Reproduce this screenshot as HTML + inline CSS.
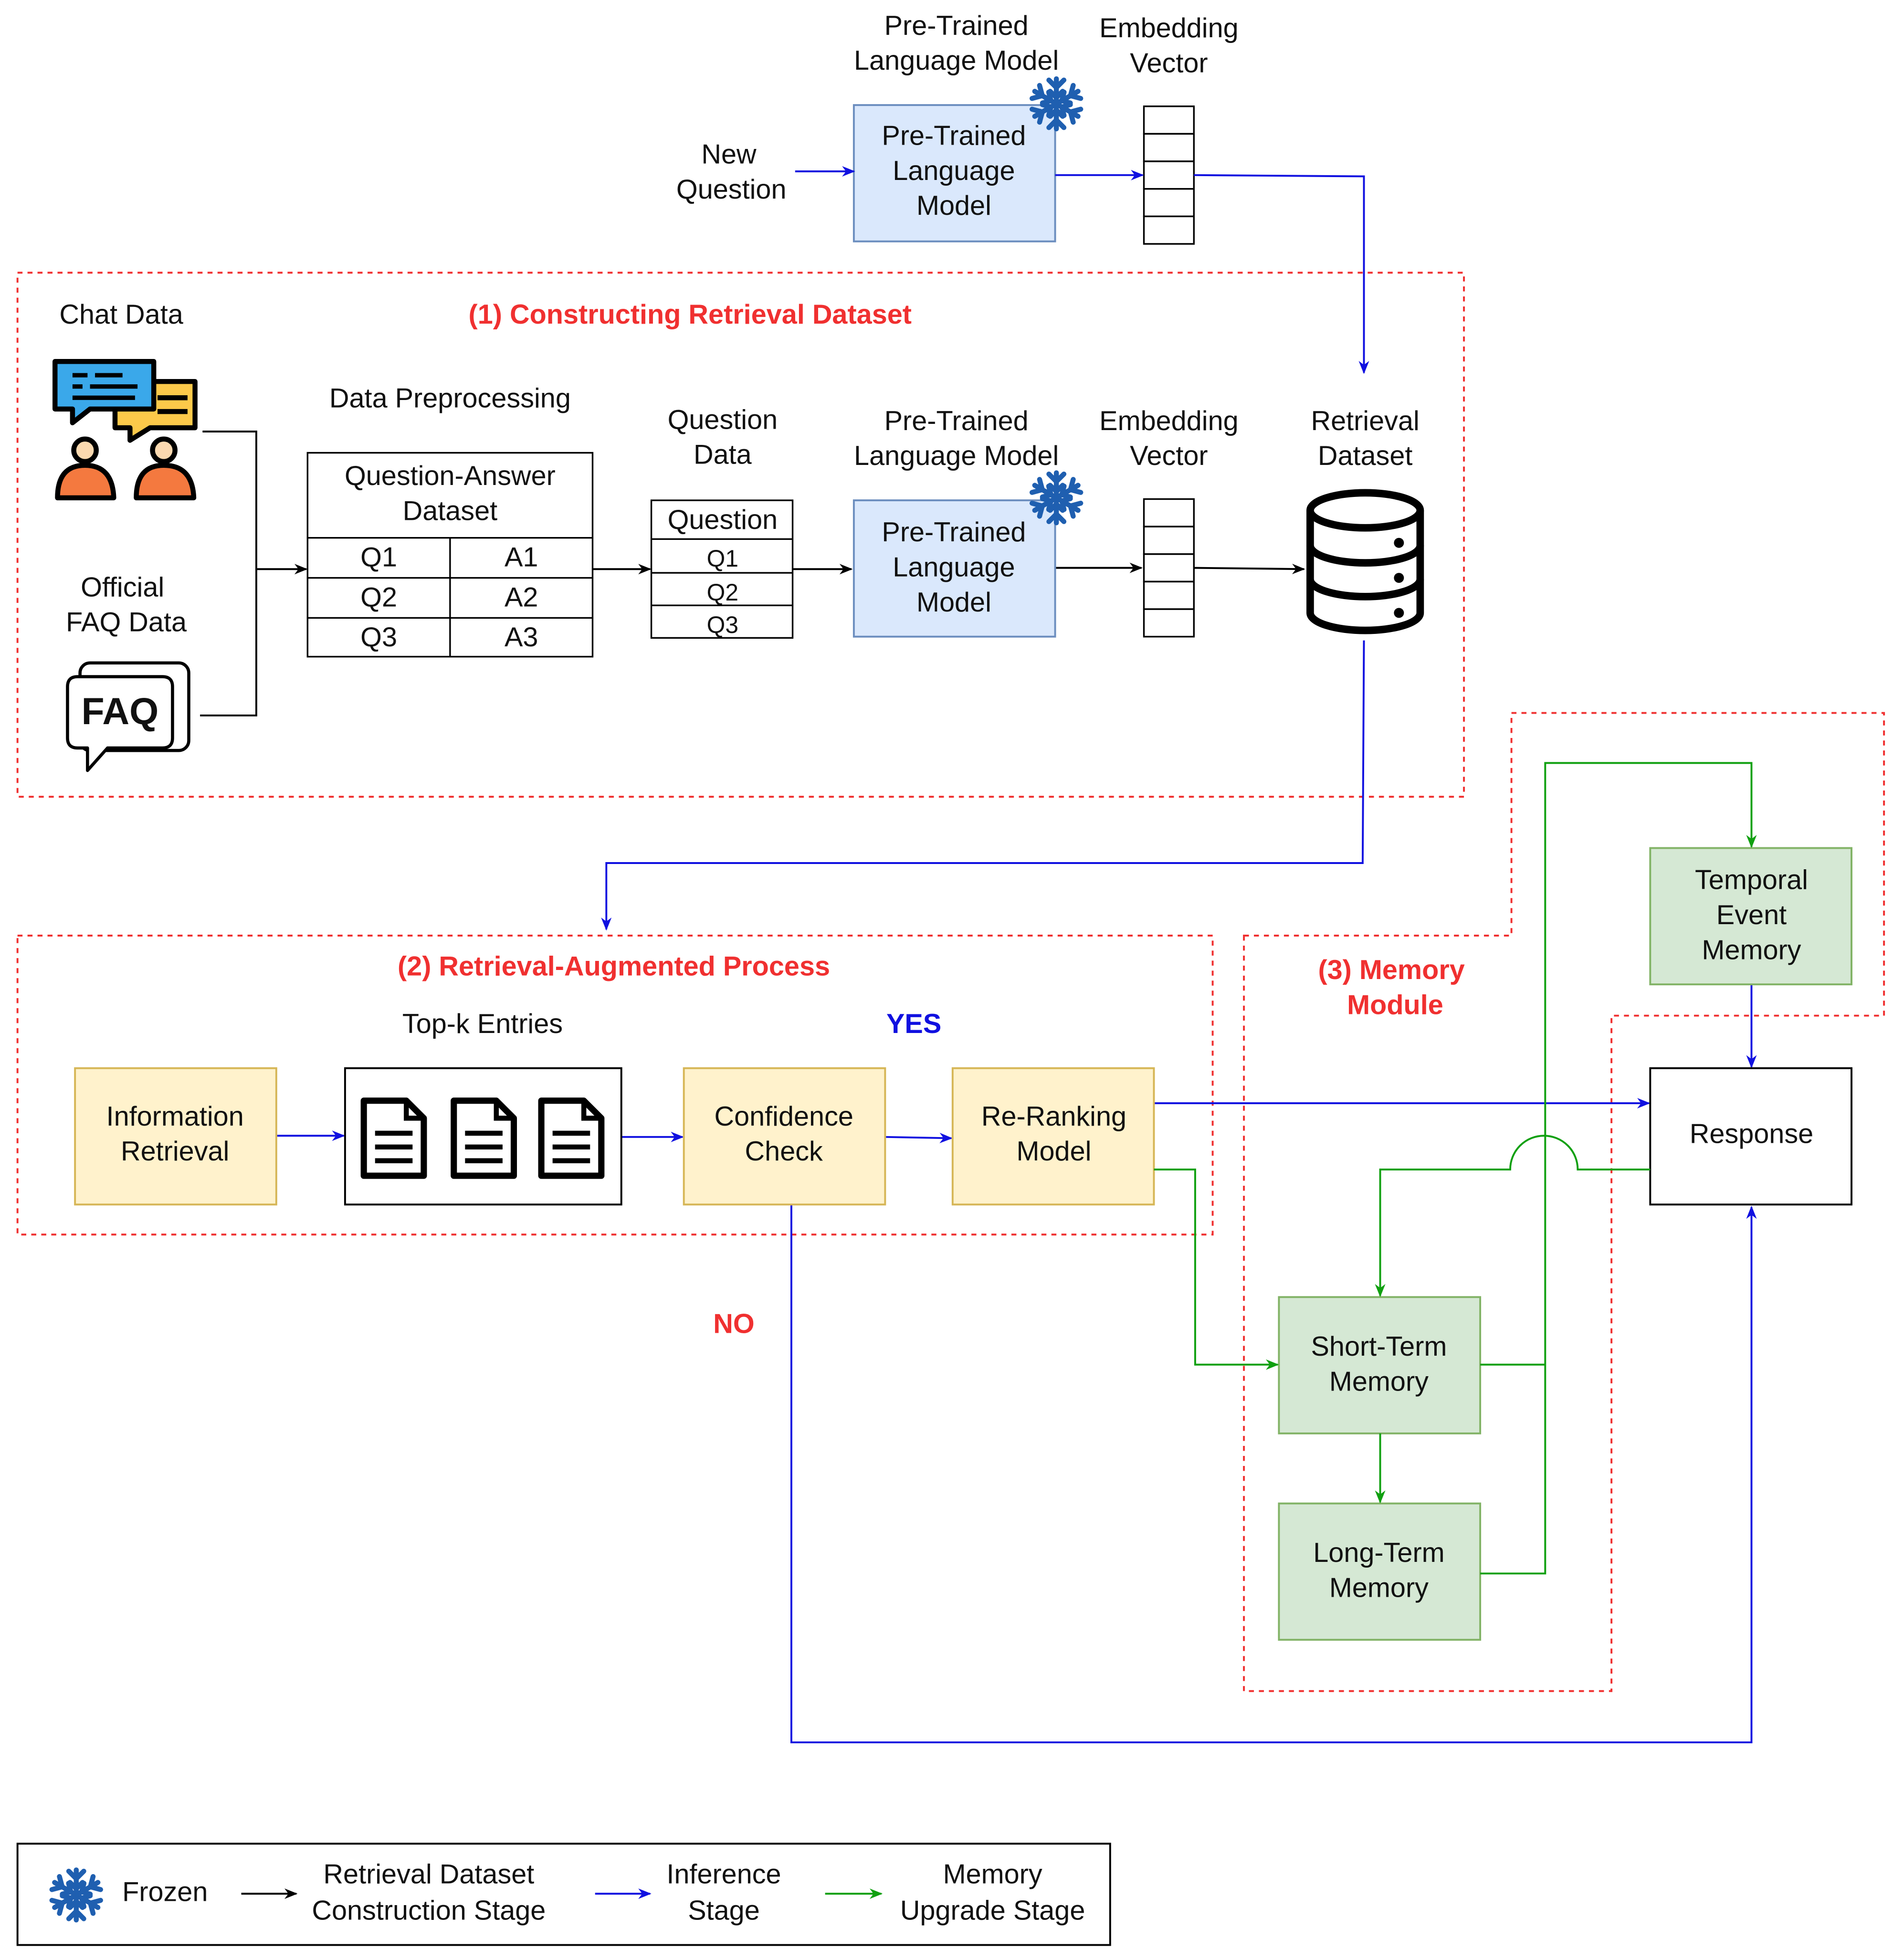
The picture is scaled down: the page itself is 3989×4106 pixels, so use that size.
<!DOCTYPE html>
<html><head><meta charset="utf-8"><style>html,body{margin:0;padding:0;background:#fff}svg{display:block}text{font-family:"Liberation Sans",Arial,sans-serif;font-size:22px;text-anchor:middle;dominant-baseline:middle;fill:#111}.r{fill:#f03030;font-weight:bold}</style></head><body>
<svg width="3989" height="4106" viewBox="0 0 1523 1567" preserveAspectRatio="none" xmlns="http://www.w3.org/2000/svg">
<defs>
<marker id="ab" viewBox="0 0 10 10" refX="9" refY="5" markerWidth="7" markerHeight="7" orient="auto"><path d="M0,1 L10,5 L0,9 L3,5z" fill="#1010e0"/></marker>
<marker id="ak" viewBox="0 0 10 10" refX="9" refY="5" markerWidth="7" markerHeight="7" orient="auto"><path d="M0,1 L10,5 L0,9 L3,5z" fill="#000"/></marker>
<marker id="ag" viewBox="0 0 10 10" refX="9" refY="5" markerWidth="7" markerHeight="7" orient="auto"><path d="M0,1 L10,5 L0,9 L3,5z" fill="#10a010"/></marker>
<g id="arm"><line x1="0" y1="0" x2="0" y2="-20"/><polyline points="-6,-19 0,-13 6,-19" fill="none"/><polyline points="-5,-10 0,-5 5,-10" fill="none"/></g>
<g id="snow" stroke="#1f5fb0" stroke-width="4" stroke-linecap="round"><use href="#arm"/><use href="#arm" transform="rotate(60)"/><use href="#arm" transform="rotate(120)"/><use href="#arm" transform="rotate(180)"/><use href="#arm" transform="rotate(240)"/><use href="#arm" transform="rotate(300)"/></g>
<g id="doc"><path d="M-24,-30 H10 L24,-16 V30 H-24 Z" fill="#fff" stroke="#000" stroke-width="5" stroke-linejoin="round"/><path d="M10,-30 V-16 H24" fill="none" stroke="#000" stroke-width="4"/><g stroke="#000" stroke-width="4"><line x1="-15" y1="-4" x2="15" y2="-4"/><line x1="-15" y1="7" x2="15" y2="7"/><line x1="-15" y1="18" x2="15" y2="18"/></g></g>
</defs>
<g fill="none" stroke="#f03030" stroke-width="1.5" stroke-dasharray="4,4">
<rect x="14" y="218" width="1157" height="419"/>
<rect x="14" y="748" width="956" height="239"/>
<polygon points="995,748 1209,748 1209,570 1507,570 1507,812 1289,812 1289,1352 995,1352"/>
</g>
<text x="765" y="22">Pre-Trained</text><text x="765" y="50">Language Model</text>
<text x="935" y="24">Embedding</text><text x="935" y="52">Vector</text>
<text x="583" y="125">New</text><text x="585" y="153">Question</text>
<rect x="683" y="84" width="161" height="109" fill="#dae8fc" stroke="#6c8ebf" stroke-width="1.5"/>
<text x="763" y="110">Pre-Trained</text><text x="763" y="138">Language</text><text x="763" y="166">Model</text>
<use href="#snow" transform="translate(845,83)"/>
<g fill="#fff" stroke="#000" stroke-width="1.3"><rect x="915" y="85" width="40" height="22"/><rect x="915" y="107" width="40" height="22"/><rect x="915" y="129" width="40" height="22"/><rect x="915" y="151" width="40" height="22"/><rect x="915" y="173" width="40" height="22"/></g>
<g fill="none" stroke="#1010e0" stroke-width="1.5">
<line x1="636" y1="137" x2="683" y2="137" marker-end="url(#ab)"/>
<line x1="844" y1="140" x2="914" y2="140" marker-end="url(#ab)"/>
<polyline points="955,140 1091,141 1091,298" marker-end="url(#ab)"/>
<polyline points="1091,512 1090,690 485,690 485,743" marker-end="url(#ab)"/>
<line x1="221" y1="908" x2="275" y2="908" marker-end="url(#ab)"/>
<line x1="497" y1="909" x2="546" y2="909" marker-end="url(#ab)"/>
<line x1="708" y1="909" x2="761" y2="910" marker-end="url(#ab)"/>
<line x1="923" y1="882" x2="1319" y2="882" marker-end="url(#ab)"/>
<polyline points="633,963 633,1393 1401,1393 1401,965" marker-end="url(#ab)"/>
<line x1="1401" y1="787" x2="1401" y2="853" marker-end="url(#ab)"/>
<line x1="476" y1="1514" x2="520" y2="1514" marker-end="url(#ab)"/>
</g>
<text class="r" x="552" y="253">(1) Constructing Retrieval Dataset</text>
<text x="97" y="253">Chat Data</text>
<g stroke="#000" stroke-width="4" stroke-linejoin="round">
<path d="M92,305 H156 V342 H120 L104,352 V342 H92Z" fill="#fcc94a"/>
<line x1="126" y1="318" x2="150" y2="318"/><line x1="126" y1="329" x2="150" y2="329"/>
<path d="M44,289 H123 V327 H72 L58,338 V327 H44Z" fill="#3aa8ea"/>
<g stroke-width="3.5"><line x1="58" y1="300" x2="70" y2="300"/><line x1="76" y1="300" x2="98" y2="300"/><line x1="58" y1="309" x2="66" y2="309"/><line x1="72" y1="309" x2="110" y2="309"/><line x1="58" y1="318" x2="108" y2="318"/></g>
<path d="M46,398 Q46,372 68,372 Q90,372 91,398Z" fill="#f4793f"/><circle cx="68" cy="360" r="9" fill="#fbd9b0"/>
<path d="M109,398 Q109,372 131,372 Q154,372 155,398Z" fill="#f4793f"/><circle cx="131" cy="360" r="9" fill="#fbd9b0"/>
</g>
<text x="98" y="471">Official</text><text x="101" y="499">FAQ Data</text>
<g stroke="#000" stroke-width="2.5" fill="#fff" stroke-linejoin="round">
<rect x="64" y="530" width="87" height="70" rx="8"/>
<path d="M62,541 H130 Q138,541 138,549 V590 Q138,598 130,598 H86 L70,616 V598 H62 Q54,598 54,590 V549 Q54,541 62,541Z"/>
</g>
<text x="96" y="571" style="font-size:30px;font-weight:bold">FAQ</text>
<g fill="none" stroke="#000" stroke-width="1.5">
<polyline points="162,345 205,345 205,572 160,572"/>
<line x1="205" y1="455" x2="245" y2="455" marker-end="url(#ak)"/>
<line x1="474" y1="455" x2="520" y2="455" marker-end="url(#ak)"/>
<line x1="634" y1="455" x2="681" y2="455" marker-end="url(#ak)"/>
<line x1="844" y1="454" x2="913" y2="454" marker-end="url(#ak)"/>
<line x1="955" y1="454" x2="1043" y2="455" marker-end="url(#ak)"/>
<line x1="193" y1="1514" x2="237" y2="1514" marker-end="url(#ak)"/>
</g>
<text x="360" y="320">Data Preprocessing</text>
<g fill="none" stroke="#000" stroke-width="1.3">
<rect x="246" y="362" width="228" height="163"/><line x1="246" y1="430" x2="474" y2="430"/><line x1="246" y1="462" x2="474" y2="462"/><line x1="246" y1="494" x2="474" y2="494"/><line x1="360" y1="430" x2="360" y2="525"/>
<rect x="521" y="400" width="113" height="110"/><line x1="521" y1="431" x2="634" y2="431"/><line x1="521" y1="458" x2="634" y2="458"/><line x1="521" y1="484" x2="634" y2="484"/>
</g>
<text x="360" y="382">Question-Answer</text><text x="360" y="410">Dataset</text>
<text x="303" y="447">Q1</text><text x="417" y="447">A1</text>
<text x="303" y="479">Q2</text><text x="417" y="479">A2</text>
<text x="303" y="511">Q3</text><text x="417" y="511">A3</text>
<text x="578" y="337">Question</text><text x="578" y="365">Data</text>
<text x="578" y="417">Question</text>
<text x="578" y="448" style="font-size:19px">Q1</text><text x="578" y="475" style="font-size:19px">Q2</text><text x="578" y="501" style="font-size:19px">Q3</text>
<text x="765" y="338">Pre-Trained</text><text x="765" y="366">Language Model</text>
<rect x="683" y="400" width="161" height="109" fill="#dae8fc" stroke="#6c8ebf" stroke-width="1.5"/>
<text x="763" y="427">Pre-Trained</text><text x="763" y="455">Language</text><text x="763" y="483">Model</text>
<use href="#snow" transform="translate(845,398)"/>
<text x="935" y="338">Embedding</text><text x="935" y="366">Vector</text>
<g fill="#fff" stroke="#000" stroke-width="1.3"><rect x="915" y="399" width="40" height="22"/><rect x="915" y="421" width="40" height="22"/><rect x="915" y="443" width="40" height="22"/><rect x="915" y="465" width="40" height="22"/><rect x="915" y="487" width="40" height="22"/></g>
<text x="1092" y="338">Retrieval</text><text x="1092" y="366">Dataset</text>
<g fill="#fff" stroke="#000" stroke-width="6">
<path d="M1048,408 V490 A44,14 0 0 0 1136,490 V408"/>
<ellipse cx="1092" cy="408" rx="44" ry="14"/>
<path d="M1048,436 A44,14 0 0 0 1136,436" fill="none"/>
<path d="M1048,463 A44,14 0 0 0 1136,463" fill="none"/>
</g>
<circle cx="1119" cy="434" r="4"/><circle cx="1119" cy="462" r="4"/><circle cx="1119" cy="490" r="4"/>
<text class="r" x="491" y="774">(2) Retrieval-Augmented Process</text>
<text x="386" y="820">Top-k Entries</text>
<text x="731" y="820" style="fill:#1010e0;font-weight:bold">YES</text>
<text class="r" x="587" y="1060">NO</text>
<g fill="#fff2cc" stroke="#d6b656" stroke-width="1.5"><rect x="60" y="854" width="161" height="109"/><rect x="547" y="854" width="161" height="109"/><rect x="762" y="854" width="161" height="109"/></g>
<text x="140" y="894">Information</text><text x="140" y="922">Retrieval</text>
<text x="627" y="894">Confidence</text><text x="627" y="922">Check</text>
<text x="843" y="894">Re-Ranking</text><text x="843" y="922">Model</text>
<rect x="276" y="854" width="221" height="109" fill="#fff" stroke="#000" stroke-width="1.5"/>
<use href="#doc" transform="translate(315,910)"/><use href="#doc" transform="translate(387,910)"/><use href="#doc" transform="translate(457,910)"/>
<text class="r" x="1113" y="777">(3) Memory</text><text class="r" x="1116" y="805">Module</text>
<rect x="1320" y="854" width="161" height="109" fill="#fff" stroke="#000" stroke-width="1.5"/>
<text x="1401" y="908">Response</text>
<g fill="#d5e8d4" stroke="#82b366" stroke-width="1.5"><rect x="1320" y="678" width="161" height="109"/><rect x="1023" y="1037" width="161" height="109"/><rect x="1023" y="1202" width="161" height="109"/></g>
<text x="1401" y="705">Temporal</text><text x="1401" y="733">Event</text><text x="1401" y="761">Memory</text>
<text x="1103" y="1078">Short-Term</text><text x="1103" y="1106">Memory</text>
<text x="1103" y="1243">Long-Term</text><text x="1103" y="1271">Memory</text>
<g fill="none" stroke="#10a010" stroke-width="1.5">
<polyline points="923,935 956,935 956,1091 1022,1091" marker-end="url(#ag)"/>
<path d="M1320,935 H1262 A27,27 0 0 0 1208,935 H1104 V1036" marker-end="url(#ag)"/>
<line x1="1104" y1="1146" x2="1104" y2="1201" marker-end="url(#ag)"/>
<polyline points="1184,1091 1236,1091"/>
<polyline points="1184,1258 1236,1258 1236,610 1401,610 1401,677" marker-end="url(#ag)"/>
<line x1="660" y1="1514" x2="705" y2="1514" marker-end="url(#ag)"/>
</g>
<rect x="14" y="1474" width="874" height="81" fill="none" stroke="#000" stroke-width="1.5"/>
<use href="#snow" transform="translate(61,1515)"/>
<text x="132" y="1514">Frozen</text>
<text x="343" y="1500">Retrieval Dataset</text><text x="343" y="1529">Construction Stage</text>
<text x="579" y="1500">Inference</text><text x="579" y="1529">Stage</text>
<text x="794" y="1500">Memory</text><text x="794" y="1529">Upgrade Stage</text>
</svg>
</body></html>
